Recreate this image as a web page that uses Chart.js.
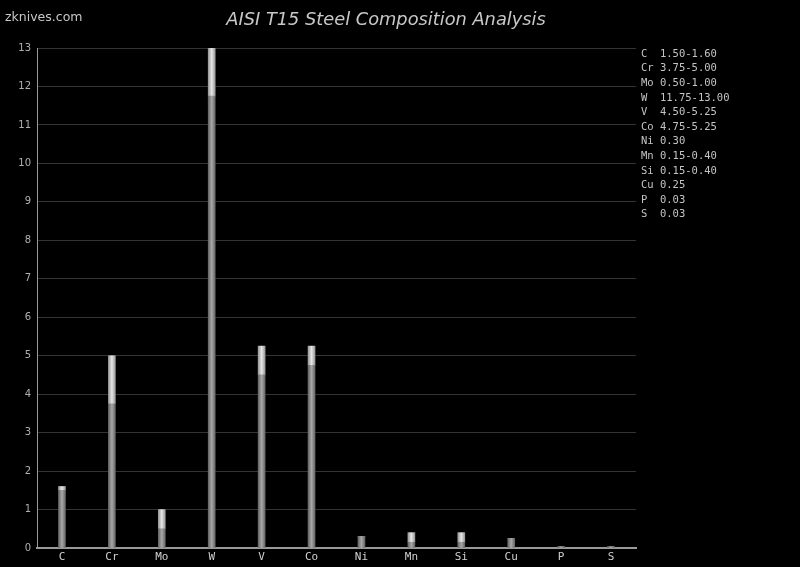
<!DOCTYPE html>
<html>
<head>
<meta charset="utf-8">
<script src="https://cdn.jsdelivr.net/npm/chart.js@4"></script>
<style>
  html, body { margin: 0; padding: 0; background: #000; }
  #wrap { width: 800px; height: 567px; position: relative; }
</style>
</head>
<body>
<div id="wrap"><canvas id="steel"></canvas></div>
<script>
// AISI T15 composition, % by weight (min / max of range)
var elements = ['C', 'Cr', 'Mo', 'W', 'V', 'Co', 'Ni', 'Mn', 'Si', 'Cu', 'P', 'S'];
var minVals  = [1.50, 3.75, 0.50, 11.75, 4.50, 4.75, 0.30, 0.15, 0.15, 0.25, 0.03, 0.03];
var maxVals  = [1.60, 5.00, 1.00, 13.00, 5.25, 5.25, 0.30, 0.40, 0.40, 0.25, 0.03, 0.03];
var yTicks   = [0, 1, 2, 3, 4, 5, 6, 7, 8, 9, 10, 11, 12, 13];

var rangeVals = maxVals.map(function (v, i) { return +(v - minVals[i]).toFixed(2); });

var legendLines = elements.map(function (el, i) {
    var txt = minVals[i].toFixed(2);
    if (maxVals[i] > minVals[i]) txt += '-' + maxVals[i].toFixed(2);
    return (el + '  ').slice(0, 2) + ' ' + txt;
});

// cylinder-like shading across each bar
function barShade(edge, mid) {
    return function (context) {
        var chart = context.chart;
        var xs = chart.scales && chart.scales.x;
        if (!xs || context.dataIndex === undefined) return mid;
        var x = xs.getPixelForValue(context.dataIndex);
        if (!isFinite(x)) return mid;
        var g = chart.ctx.createLinearGradient(x - 3.5, 0, x + 3.5, 0);
        g.addColorStop(0, edge);
        g.addColorStop(0.5, mid);
        g.addColorStop(1, edge);
        return g;
    };
}

var backdrop = {
    id: 'backdrop',
    beforeDraw: function (chart) {
        var c = chart.ctx;
        c.save();
        c.fillStyle = '#000';
        c.fillRect(0, 0, chart.width, chart.height);
        c.restore();
    },
    afterDraw: function (chart) {
        var c = chart.ctx;
        c.save();
        c.fillStyle = '#c8c8c8';
        c.textBaseline = 'middle';
        c.font = '12.5px "DejaVu Sans"';
        c.textAlign = 'left';
        c.fillText('zknives.com', 5, 18);

        c.font = 'italic 17.8px "DejaVu Sans"';
        c.textAlign = 'center';
        c.fillText('AISI T15 Steel Composition Analysis', 386, 20);

        c.font = '10.5px "DejaVu Sans Mono"';
        c.textAlign = 'left';
        c.fillStyle = '#c4c4c4';
        legendLines.forEach(function (line, i) {
            c.fillText(line, 641, 54 + i * 14.6);
        });
        c.restore();
    }
};

new Chart(document.getElementById('steel'), {
    type: 'bar',
    data: {
        labels: elements,
        datasets: [{
            label: 'min',
            data: minVals,
            backgroundColor: barShade('#666', '#a8a8a8'),
            barThickness: 7
        }, {
            label: 'range',
            data: rangeVals,
            backgroundColor: barShade('#999', '#e6e6e6'),
            barThickness: 7
        }]
    },
    options: {
        responsive: true,
        maintainAspectRatio: false,
        animation: false,
        layout: { padding: { top: 48, right: 164, left: 0, bottom: 0 } },
        plugins: { legend: { display: false }, tooltip: { enabled: false } },
        scales: {
            x: {
                stacked: true,
                grid: { display: false, drawTicks: false },
                border: { color: '#9a9a9a', width: 2 },
                ticks: { color: '#d0d0d0', padding: 3, font: { family: 'DejaVu Sans Mono', size: 11 } },
                afterFit: function (s) { s.height = 19; }
            },
            y: {
                stacked: true,
                min: 0,
                max: yTicks[yTicks.length - 1],
                afterBuildTicks: function (s) { s.ticks = yTicks.map(function (v) { return { value: v }; }); },
                grid: { color: '#333', drawTicks: false },
                border: { color: '#9a9a9a', width: 1 },
                ticks: { color: '#b0b0b0', padding: 6, font: { family: 'DejaVu Sans', size: 10 } },
                afterFit: function (s) { s.width = 37; }
            }
        }
    },
    plugins: [backdrop]
});
</script>
</body>
</html>
